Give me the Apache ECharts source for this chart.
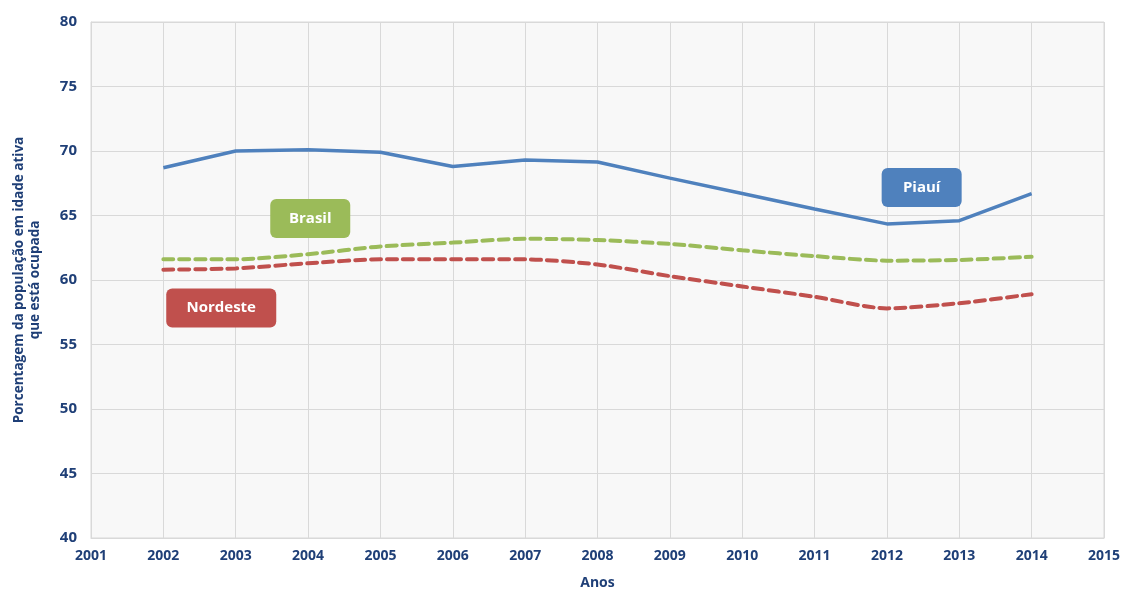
<!DOCTYPE html>
<html>
<head>
<meta charset="utf-8">
<script src="https://cdn.jsdelivr.net/npm/echarts@6/dist/echarts.min.js"></script>
<style>
html,body{margin:0;padding:0;background:#fff;}
#chart{width:1122px;height:590px;}
</style>
</head>
<body>
<div id="chart"></div>
<script>
const years = [2002, 2003, 2004, 2005, 2006, 2007, 2008, 2009, 2010, 2011, 2012, 2013, 2014];
const piaui = [68.7, 70.0, 70.1, 69.9, 68.8, 69.3, 69.15, 67.9, 66.7, 65.5, 64.35, 64.6, 66.7];
const brasil = [61.6, 61.6, 62.0, 62.6, 62.9, 63.2, 63.1, 62.8, 62.3, 61.85, 61.5, 61.55, 61.8];
const nordeste = [60.8, 60.9, 61.3, 61.6, 61.6, 61.6, 61.2, 60.3, 59.5, 58.7, 57.8, 58.2, 58.9];
const seriesNames = ['Piauí', 'Brasil', 'Nordeste'];
const labelPos = { 'Piauí': [2012.48, 67.17], 'Brasil': [2004.03, 64.77], 'Nordeste': [2002.8, 57.83] };
const colors = ['#4f81bd', '#9bbb59', '#c0504d'];
const textColor = '#1f3f77';
const font = '"Open Sans", "Noto Sans", sans-serif';

function pairs(vals) { return years.map((y, i) => [y, vals[i]]); }

function makeSeries(name, vals, color, dashed, boxW) {
  return {
    name: name,
    type: 'line',
    data: pairs(vals),
    symbol: 'none',
    smooth: dashed ? 0.25 : false,
    lineStyle: { color: color, width: dashed ? 4 : 3.5, type: dashed ? [10, 6] : 'solid', cap: dashed ? 'round' : 'butt' },
    z: dashed ? 3 : 4,
    markPoint: {
      symbol: 'rect',
      symbolSize: 1,
      itemStyle: { color: 'rgba(0,0,0,0)' },
      label: {
        show: true, position: 'inside', formatter: name,
        color: '#fff', fontWeight: 'bold', fontSize: 15, fontFamily: font,
        backgroundColor: color, borderRadius: 6,
        width: boxW, height: 39, lineHeight: 39, align: 'center', verticalAlign: 'middle'
      },
      data: [{ coord: labelPos[name] }],
      silent: true,
      animation: false
    }
  };
}

const chart = echarts.init(document.getElementById('chart'), null, { renderer: 'canvas' });
chart.setOption({
  animation: false,
  backgroundColor: '#ffffff',
  grid: { left: 91, right: 18, top: 22, bottom: 52, outerBoundsMode: 'none', containLabel: false, show: true, backgroundColor: '#f8f8f8', borderColor: '#d9d9d9', borderWidth: 1 },
  xAxis: {
    type: 'value', min: 2001, max: 2015, interval: 1,
    name: 'Anos', nameLocation: 'middle', nameGap: 38,
    nameTextStyle: { color: textColor, fontWeight: 'bold', fontSize: 14, fontFamily: font },
    axisLine: { show: true, lineStyle: { color: '#d9d9d9' } },
    axisTick: { show: false },
    axisLabel: { color: textColor, fontWeight: 'bold', fontSize: 14, fontFamily: font, margin: 11, formatter: v => String(v) },
    splitLine: { show: true, lineStyle: { color: '#d9d9d9', width: 1 } }
  },
  yAxis: {
    type: 'value', min: 40, max: 80, interval: 5,
    name: 'Porcentagem da população em idade ativa\nque está ocupada', nameLocation: 'middle', nameGap: 48,
    nameTextStyle: { color: textColor, fontWeight: 'bold', fontSize: 13.5, fontFamily: font, lineHeight: 16 },
    axisLine: { show: true, lineStyle: { color: '#d9d9d9' } },
    axisTick: { show: false },
    axisLabel: { color: textColor, fontWeight: 'bold', fontSize: 15, fontFamily: font, margin: 14 },
    splitLine: { show: true, lineStyle: { color: '#d9d9d9', width: 1 } }
  },
  series: [
    makeSeries(seriesNames[0], piaui, colors[0], false, 80),
    makeSeries(seriesNames[1], brasil, colors[1], true, 80),
    makeSeries(seriesNames[2], nordeste, colors[2], true, 110)
  ]
});
</script>
</body>
</html>
